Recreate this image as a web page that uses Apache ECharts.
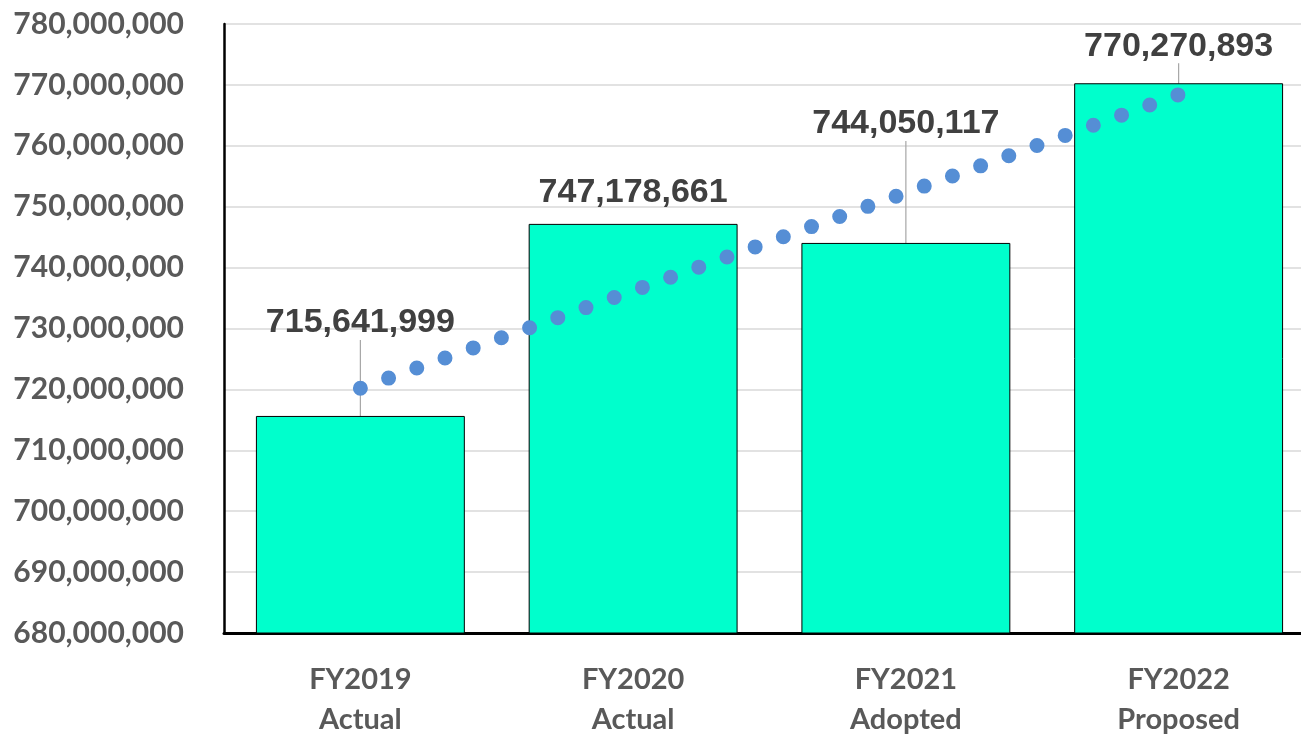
<!DOCTYPE html>
<html>
<head>
<meta charset="utf-8">
<script src="https://cdn.jsdelivr.net/npm/echarts@6/dist/echarts.min.js"></script>
<style>
html,body{margin:0;padding:0;background:#fff;}
#chart{width:1301px;height:736px;}
</style>
</head>
<body>
<div id="chart"></div>
<script>
const categories = ['FY2019\nActual', 'FY2020\nActual', 'FY2021\nAdopted', 'FY2022\nProposed'];
const budgetValues = [715641999, 747178661, 744050117, 770270893];
const trendValues = [720200000, 736200000, 752300000, 768400000];
const yTicks = [680000000, 780000000, 10000000];

const labelShift = [-62, 0, -88, -6];

const chart = echarts.init(document.getElementById('chart'), null, {renderer: 'canvas'});

const barData = budgetValues.map((v, i) => ({
  value: v,
  labelLine: {show: labelShift[i] !== 0}
}));

chart.setOption({
  animation: false,
  backgroundColor: '#ffffff',
  grid: {left: 224, right: -14, top: 24, bottom: 103, containLabel: false, outerBoundsMode: 'none'},
  xAxis: {
    type: 'category',
    data: categories,
    axisLine: {show: true, lineStyle: {color: '#000', width: 3}},
    axisTick: {show: false},
    axisLabel: {
      margin: 27,
      color: '#595959',
      fontFamily: 'Lato',
      fontWeight: 'bold',
      fontSize: 29,
      lineHeight: 40
    }
  },
  yAxis: {
    type: 'value',
    min: yTicks[0],
    max: yTicks[1],
    interval: yTicks[2],
    axisLine: {show: true, lineStyle: {color: '#000', width: 2.5}},
    axisTick: {show: false},
    splitLine: {show: true, lineStyle: {color: '#d9d9d9', width: 1.5}},
    axisLabel: {
      margin: 40,
      color: '#595959',
      fontFamily: 'Lato',
      fontWeight: 'bold',
      fontSize: 30,
      formatter: v => v.toLocaleString('en-US')
    }
  },
  series: [
    {
      type: 'bar',
      data: barData,
      barCategoryGap: '23.4%',
      itemStyle: {color: '#00FFCC', borderColor: '#000', borderWidth: 1},
      label: {
        show: true,
        position: 'top',
        distance: -4,
        padding: [0, 0, 18, 0],
        color: '#404040',
        fontFamily: 'Liberation Sans, Arial, sans-serif',
        fontWeight: 'bold',
        fontSize: 34,
        formatter: p => p.value.toLocaleString('en-US')
      },
      labelLine: {show: true, lineStyle: {color: '#a6a6a6', width: 1.2}},
      labelLayout: p => ({dy: labelShift[p.dataIndex]}),
      z: 2
    },
    {
      type: 'line',
      data: trendValues,
      symbol: 'none',
      lineStyle: {color: '#558ED5', width: 15, type: [0, 29.95], cap: 'round'},
      z: 3
    }
  ]
});
</script>
</body>
</html>
